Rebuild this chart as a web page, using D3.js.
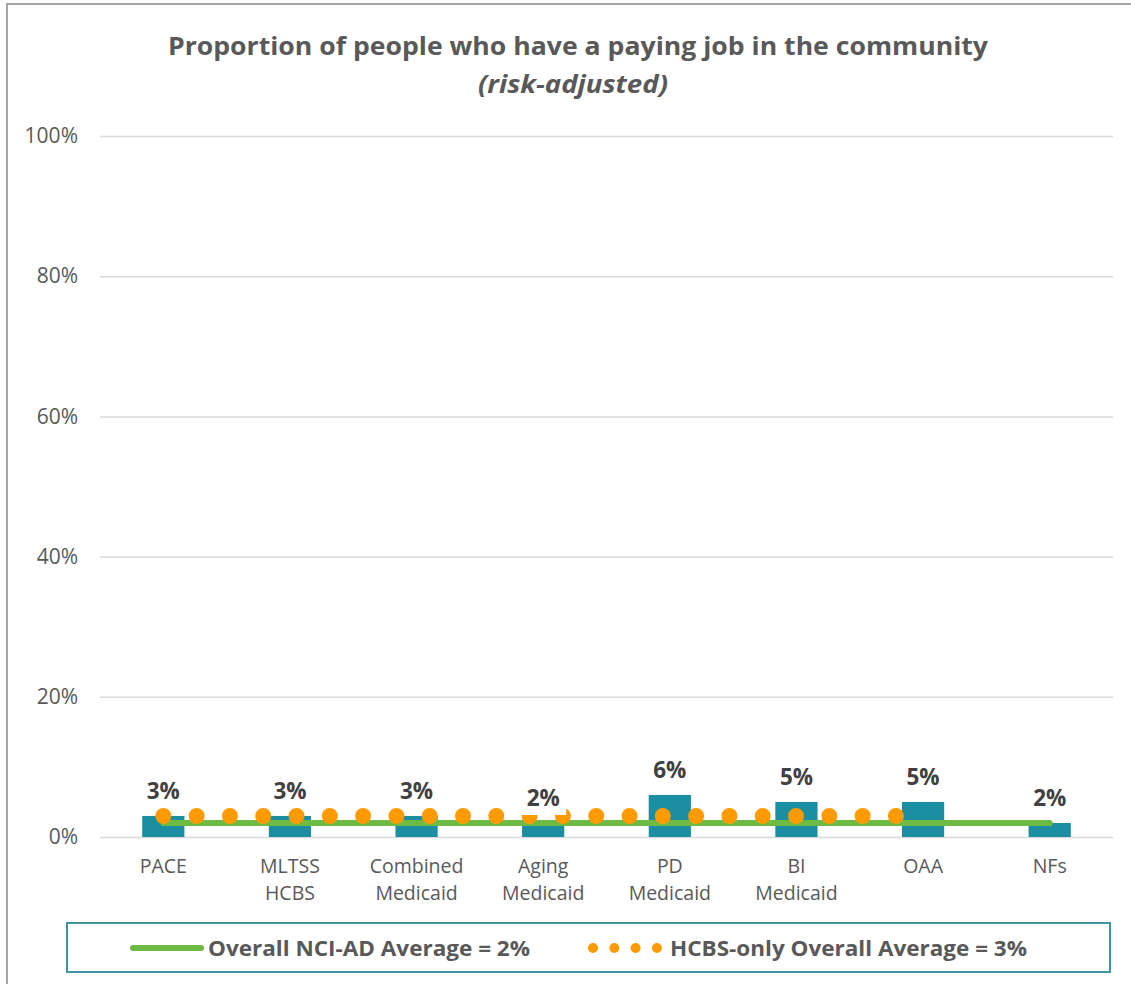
<!DOCTYPE html>
<html>
<head>
<meta charset="utf-8">
<script src="https://cdn.jsdelivr.net/npm/d3@7/dist/d3.min.js"></script>
<style>
  html, body { margin: 0; padding: 0; background: #fff; }
  svg { display: block; font-family: "Open Sans", "Noto Sans", sans-serif; }
</style>
</head>
<body>
<svg id="chart" width="1131" height="984"></svg>
<script>
// ---- data ----
const categories = ["PACE", "MLTSS\nHCBS", "Combined\nMedicaid", "Aging\nMedicaid", "PD\nMedicaid", "BI\nMedicaid", "OAA", "NFs"];
const values = [3, 3, 3, 2, 6, 5, 5, 2];
const overallAverage = 2;           // Overall NCI-AD Average
const hcbsAverage = 3;              // HCBS-only Overall Average
const hcbsCategories = ["PACE", "MLTSS\nHCBS", "Combined\nMedicaid", "Aging\nMedicaid", "PD\nMedicaid", "BI\nMedicaid", "OAA"];
const yTicks = [0, 20, 40, 60, 80, 100];
const titleText = "Proportion of people who have a paying job in the community";
const subtitleText = "(risk-adjusted)";
const legendLabels = ["Overall NCI-AD Average = 2%", "HCBS-only Overall Average = 3%"];

// ---- styling ----
const textColor = "#595959";
const barColor = "#1B8EA2";
const greenColor = "#6DBB45";
const orangeColor = "#FF9B00";
const gridColor = "#D9D9D9";

const svg = d3.select("#chart");

// chart outer border (top + left visible)
svg.append("rect")
  .attr("x", 7).attr("y", 4).attr("width", 1140).attr("height", 1000)
  .attr("fill", "none").attr("stroke", "#A6A6A6").attr("stroke-width", 2);

const x = d3.scaleBand().domain(categories).range([100, 1113]).paddingInner(0).paddingOuter(0);
const y = d3.scaleLinear().domain([0, 100]).range([837, 136]);

// title
svg.append("text")
  .attr("x", 578).attr("y", 55)
  .attr("text-anchor", "middle")
  .attr("fill", textColor)
  .attr("font-weight", "bold")
  .attr("font-size", 25)
  .attr("textLength", 820).attr("lengthAdjust", "spacingAndGlyphs")
  .text(titleText);
svg.append("text")
  .attr("x", 573).attr("y", 93)
  .attr("text-anchor", "middle")
  .attr("fill", textColor)
  .attr("font-weight", "bold")
  .attr("font-style", "italic")
  .attr("font-size", 25)
  .attr("textLength", 190).attr("lengthAdjust", "spacingAndGlyphs")
  .text(subtitleText);

// y axis gridlines + labels
const yAxis = d3.axisLeft(y).tickValues(yTicks).tickFormat(d => d + "%").tickSize(-1013).tickPadding(22);
const gy = svg.append("g").attr("transform", "translate(100,0)").call(yAxis);
gy.select(".domain").remove();
gy.selectAll(".tick line").attr("stroke", gridColor).attr("stroke-width", 1.5);
gy.selectAll(".tick text")
  .attr("fill", textColor)
  .attr("font-size", 21)
  .attr("font-family", "'Open Sans', sans-serif");

// x axis labels
const xAxis = d3.axisBottom(x).tickSize(0).tickFormat("");
const gx = svg.append("g").attr("transform", "translate(0,837)").call(xAxis);
gx.select(".domain").remove();
gx.selectAll(".tick").each(function(d) {
  const lines = d.split("\n");
  const t = d3.select(this).append("text")
    .attr("fill", textColor)
    .attr("font-size", 19.5)
    .attr("text-anchor", "middle")
    .attr("font-family", "'Open Sans', sans-serif");
  lines.forEach((ln, i) => {
    t.append("tspan").attr("x", 0).attr("y", 36 + i * 27).text(ln);
  });
});

// bars
const barW = x.bandwidth() / 3;
svg.append("g").selectAll("rect")
  .data(values)
  .join("rect")
  .attr("x", (d, i) => x(categories[i]) + (x.bandwidth() - barW) / 2)
  .attr("y", d => y(d))
  .attr("width", barW)
  .attr("height", d => y(0) - y(d))
  .attr("fill", barColor);

// overall average line (green)
const cx = c => x(c) + x.bandwidth() / 2;
svg.append("line")
  .attr("x1", cx(categories[0])).attr("x2", cx(categories[categories.length - 1]))
  .attr("y1", y(overallAverage)).attr("y2", y(overallAverage))
  .attr("stroke", greenColor).attr("stroke-width", 6).attr("stroke-linecap", "round");

// HCBS-only average (orange round dots)
svg.append("line")
  .attr("x1", cx(hcbsCategories[0])).attr("x2", cx(hcbsCategories[hcbsCategories.length - 1]))
  .attr("y1", y(hcbsAverage)).attr("y2", y(hcbsAverage))
  .attr("stroke", orangeColor).attr("stroke-width", 16)
  .attr("stroke-linecap", "round").attr("stroke-dasharray", "0 33.3");

// data labels with white background
const lbl = svg.append("g").selectAll("g")
  .data(values)
  .join("g")
  .attr("transform", (d, i) => `translate(${cx(categories[i])},${y(d) - 25})`);
lbl.append("rect")
  .attr("x", -23).attr("y", -17).attr("width", 46).attr("height", 34)
  .attr("fill", "#fff");
lbl.append("text")
  .attr("text-anchor", "middle")
  .attr("dy", "0.36em")
  .attr("fill", "#404040")
  .attr("font-weight", "bold")
  .attr("font-size", 22.5)
  .text(d => d + "%");

// legend
const lg = svg.append("g");
lg.append("rect")
  .attr("x", 67).attr("y", 923).attr("width", 1043).attr("height", 49)
  .attr("fill", "#fff").attr("stroke", "#3E95A3").attr("stroke-width", 2);
lg.append("line")
  .attr("x1", 133).attr("x2", 201).attr("y1", 948).attr("y2", 948)
  .attr("stroke", greenColor).attr("stroke-width", 6).attr("stroke-linecap", "round");
lg.append("text")
  .attr("x", 208).attr("y", 948).attr("dy", "0.36em")
  .attr("fill", textColor).attr("font-weight", "bold").attr("font-size", 21)
  .attr("textLength", 322).attr("lengthAdjust", "spacingAndGlyphs")
  .text(legendLabels[0]);
lg.append("line")
  .attr("x1", 593).attr("x2", 657).attr("y1", 948).attr("y2", 948)
  .attr("stroke", orangeColor).attr("stroke-width", 10)
  .attr("stroke-linecap", "round").attr("stroke-dasharray", "0 21.3");
lg.append("text")
  .attr("x", 670).attr("y", 948).attr("dy", "0.36em")
  .attr("fill", textColor).attr("font-weight", "bold").attr("font-size", 21)
  .attr("textLength", 357).attr("lengthAdjust", "spacingAndGlyphs")
  .text(legendLabels[1]);
</script>
</body>
</html>
